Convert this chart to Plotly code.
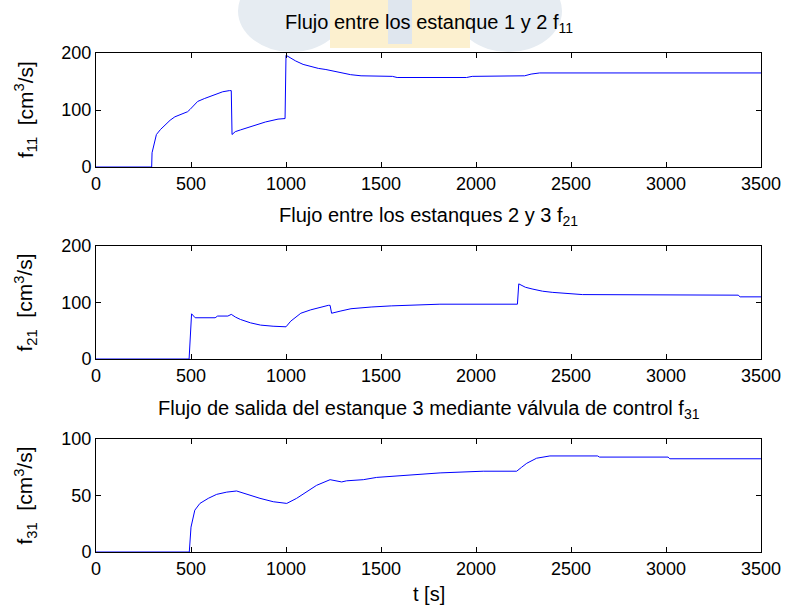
import plotly.graph_objects as go

# ---------------- data ----------------
t11 = [0, 293, 295, 300, 310, 318, 340, 363, 390, 415, 450, 482, 495, 510, 535, 570, 601, 640, 667, 702, 712,
       716, 733, 760, 786, 839, 892, 958, 995, 1000, 1020, 1051, 1090, 1130, 1170, 1210, 1250, 1289, 1340,
       1395, 1560, 1585, 1950, 1980, 2256, 2290, 2335, 3500]
f11 = [0, 0, 25, 33, 48, 57, 66, 74, 82, 88, 93, 97, 101, 107, 115, 120, 124, 128, 132, 134, 134,
       57, 62, 65, 68, 74, 79, 84, 85, 196, 192, 186, 180, 176, 173, 171, 168, 165, 162,
       160, 159, 157, 157, 159, 160, 163, 165, 165]

t21 = [0, 490, 503, 522, 627, 640, 694, 712, 735, 760, 813, 866, 932, 985, 1000, 1025, 1078, 1130, 1183,
       1223, 1232, 1240, 1289, 1342, 1448, 1554, 1810, 2218, 2225, 2260, 2295, 2350, 2401, 2560, 3380, 3390, 3500]
f21 = [0, 0, 80, 73, 73, 76, 76, 79, 74, 70, 64, 60, 58, 57, 57, 67, 81, 87, 92,
       95, 95, 81, 85, 89, 92, 94, 97, 97, 133, 127, 124, 120, 118, 114, 113, 110, 110]

t31 = [0, 491, 500, 512, 520, 547, 591, 635, 688, 740, 793, 863, 933, 1004, 1056, 1109, 1161, 1232, 1293,
       1319, 1407, 1477, 1653, 1811, 2038, 2214, 2240, 2267, 2319, 2389, 2640, 2650, 3011, 3020, 3500]
f31 = [0, 0, 22, 31, 37, 43, 47.5, 51, 53, 54, 51, 47.5, 44.5, 43, 47.5, 53, 59, 64, 62,
       63, 64, 66, 68, 70, 71.5, 71.5, 75, 78.5, 83, 85, 85, 84, 84, 82.5, 82.5]

x_ticks = [0, 500, 1000, 1500, 2000, 2500, 3000, 3500]
y_ticks_12 = [0, 100, 200]
y_ticks_3 = [0, 50, 100]

titles = ["Flujo entre los estanque 1 y 2 f<sub>11</sub>",
          "Flujo entre los estanques 2 y 3 f<sub>21</sub>",
          "Flujo de salida del estanque 3 mediante válvula de control f<sub>31</sub>"]
ylabels = ["f<sub>11</sub>  [cm<sup>3</sup>/s]",
           "f<sub>21</sub>  [cm<sup>3</sup>/s]",
           "f<sub>31</sub>  [cm<sup>3</sup>/s]"]
xlabel = "t [s]"

# ---------------- layout geometry ----------------
W, H = 787, 607
FONT = "Liberation Sans, Arial, Helvetica, sans-serif"
x0, x1 = 96, 761
panels = [(53, 167), (246, 359), (439, 552)]  # top, bottom in px


def py(p):
    return 1 - p / H


fig = go.Figure()
series = [(t11, f11), (t21, f21), (t31, f31)]
for i, (tx, fy) in enumerate(series):
    sfx = "" if i == 0 else str(i + 1)
    fig.add_trace(go.Scatter(x=tx, y=fy, mode="lines", line=dict(color="#0000ff", width=1),
                             xaxis="x" + sfx, yaxis="y" + sfx, showlegend=False, hoverinfo="skip"))

axis_common = dict(showline=True, linecolor="black", linewidth=1, mirror="ticks", ticks="inside",
                   ticklen=5, tickcolor="black", showgrid=False, zeroline=False, automargin=False,
                   tickfont=dict(family=FONT, size=18, color="black"))

layout = dict(width=W, height=H, margin=dict(l=0, r=0, t=0, b=0, pad=0), plot_bgcolor="white",
              paper_bgcolor="white", showlegend=False, autosize=False)
annotations = []
for i, (top, bot) in enumerate(panels):
    sfx = "" if i == 0 else str(i + 1)
    yt = y_ticks_3 if i == 2 else y_ticks_12
    layout["xaxis" + sfx] = dict(axis_common, domain=[x0 / W, x1 / W], range=[0, 3500],
                                 tickvals=x_ticks, anchor="y" + sfx)
    layout["yaxis" + sfx] = dict(axis_common, domain=[py(bot), py(top)], range=[yt[0], yt[-1]],
                                 tickvals=yt, anchor="x" + sfx)
    annotations.append(dict(text=titles[i], x=(x0 + x1) / 2 / W, y=py(top - 15), xref="paper", yref="paper",
                            xanchor="center", yanchor="bottom", showarrow=False,
                            font=dict(family=FONT, size=20, color="black")))
    annotations.append(dict(text=ylabels[i], x=25 / W, y=py((top + bot) / 2), xref="paper", yref="paper",
                            xanchor="center", yanchor="middle", textangle=-90, showarrow=False,
                            font=dict(family=FONT, size=21, color="black")))
annotations.append(dict(text=xlabel, x=(x0 + x1) / 2 / W, y=py(594), xref="paper", yref="paper",
                        xanchor="center", yanchor="middle", showarrow=False,
                        font=dict(family=FONT, size=20, color="black")))
layout["annotations"] = annotations

# faint watermark logo behind the first title
layout["shapes"] = [
    dict(type="circle", xref="paper", yref="paper", x0=238 / W, x1=345 / W, y0=py(52), y1=py(-30),
         fillcolor="#e6ecf2", line=dict(width=0), layer="below"),
    dict(type="circle", xref="paper", yref="paper", x0=455 / W, x1=562 / W, y0=py(52), y1=py(-30),
         fillcolor="#e6ecf2", line=dict(width=0), layer="below"),
    dict(type="rect", xref="paper", yref="paper", x0=330 / W, x1=470 / W, y0=py(48), y1=py(0),
         fillcolor="#fcf0cf", line=dict(width=0), layer="below"),
    dict(type="rect", xref="paper", yref="paper", x0=388 / W, x1=412 / W, y0=py(44), y1=py(0),
         fillcolor="#dfe6ee", line=dict(width=0), layer="below"),
]
fig.update_layout(**layout)
fig.write_html("out.html")
